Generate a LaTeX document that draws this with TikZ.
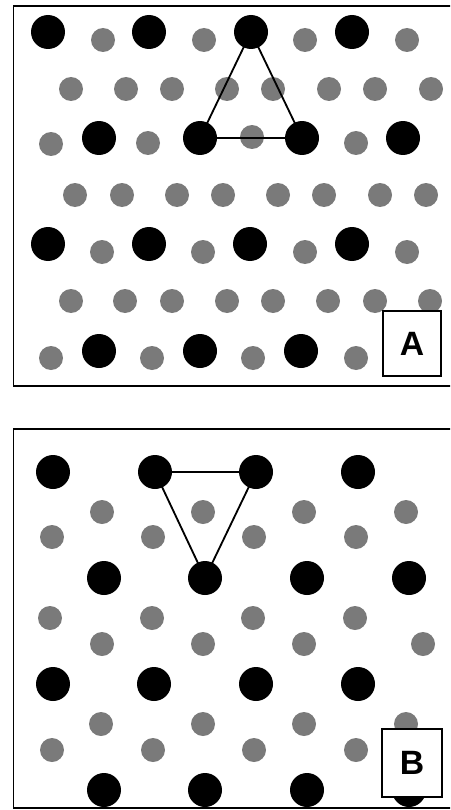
\documentclass[tikz,border=0pt]{standalone}
\usepackage{fontspec}
\setmainfont{Liberation Sans}
\definecolor{dotgray}{RGB}{122,122,122}

\begin{document}
\begin{tikzpicture}[x=0.05cm, y=-0.05cm,
    big/.style={circle, fill=black, minimum size=1.7cm, inner sep=0pt},
    small/.style={circle, fill=dotgray, minimum size=1.2cm, inner sep=0pt},
    frame/.style={draw, line width=2.6pt},
    edge/.style={draw, line width=2.6pt},
    tag/.style={draw, fill=white, line width=3.4pt, inner sep=0pt, font=\fontsize{48}{48}\selectfont\bfseries}]
    \useasboundingbox (0,0) rectangle (450,810);
    \clip (0,0) rectangle (450,810);

    % panel A
    \draw[frame] (13.5,6) rectangle (460,386);
    \foreach \x/\y in {103/40,204/40,305/40,407/40,
        71/89,126/89,172/89,227/89,273/89,329/89,375/89,431/89,
        51/144,148/143,252/137,356/143,
        75/195,122/195,177/195,223/195,278/195,324/195,380/195,426/195,
        102/252,203/252,305/252,407/252,
        71/301,125/301,172/301,227/301,273/301,328/301,375/301,430/301,
        51/358,152/358,253/358,356/358}
        \node[small] at (\x,\y) {};
    \foreach \x [count=\i] in {48,149,251,352} \node[big] (A1-\i) at (\x,32) {};
    \foreach \x [count=\i] in {99,200,302,403} \node[big] (A3-\i) at (\x,138) {};
    \foreach \x [count=\i] in {48,149,250,352} \node[big] (A5-\i) at (\x,244) {};
    \foreach \x [count=\i] in {99,200,301} \node[big] (A7-\i) at (\x,351) {};
    \draw[edge] (A1-3.center) -- (A3-2.center) -- (A3-3.center) -- (A1-3.center);
    \node[tag, minimum width=2.9cm, minimum height=3.25cm] (tagA) at (412,343.5) {A};

    % panel B
    \draw[frame] (13.5,429) rectangle (460,808);
    \foreach \x/\y in {102/512,203/512,304/512,406/512,
        52/537,153/537,254/537,356/537,
        50/618,152/618,253/618,355/618,
        102/644,203/644,304/644,423/644,
        101/724,203/724,304/724,406/724,
        52/750,153/750,254/750,356/750}
        \node[small] at (\x,\y) {};
    \foreach \x [count=\i] in {53,155,256,358} \node[big] (B1-\i) at (\x,472) {};
    \foreach \x [count=\i] in {104,205,307,409} \node[big] (B2-\i) at (\x,578) {};
    \foreach \x [count=\i] in {53,154,256,358} \node[big] (B3-\i) at (\x,684) {};
    \foreach \x [count=\i] in {104,205,307,409} \node[big] (B4-\i) at (\x,790) {};
    \draw[edge] (B1-2.center) -- (B1-3.center) -- (B2-2.center) -- (B1-2.center);
    \node[tag, minimum width=3cm, minimum height=3.4cm] (tagB) at (412,763) {B};
\end{tikzpicture}
\end{document}
